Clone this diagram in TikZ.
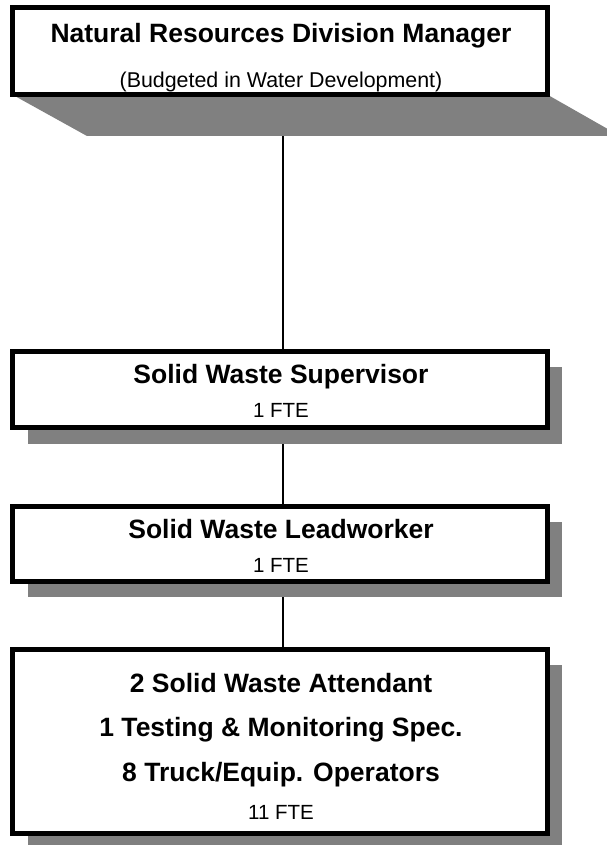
\documentclass[tikz,border=0pt]{standalone}
\usepackage{fontspec}
\setmainfont{Liberation Sans}
\definecolor{shade}{RGB}{128,128,128}
\pgfdeclarelayer{bgA}
\pgfdeclarelayer{bgB}
\pgfsetlayers{bgA,bgB,main}
\tikzset{
  box/.style={draw, line width=5pt, fill=white, inner sep=0pt, minimum width=535pt},
  conn/.style={line width=2.2pt},
  shadowfill/.style={fill=shade, draw=none},
  ttl/.style={font=\bfseries\fontsize{26.5}{30}\selectfont, anchor=base, inner sep=0pt},
  subt/.style={font=\fontsize{21.4}{25}\selectfont, anchor=base, inner sep=0pt},
  fte/.style={font=\fontsize{20.5}{24}\selectfont, anchor=base, inner sep=0pt}
}
\begin{document}
\begin{tikzpicture}[x=1pt,y=-1pt]
\useasboundingbox (0,0) rectangle (607,845);
% boxes
\node[box, minimum height=87pt] (mgr) at (280,51) {};
\node[box, minimum height=76pt] (sup) at (280,389.5) {};
\node[box, minimum height=75pt] (lead) at (280,544) {};
\node[box, minimum height=184pt] (staff) at (280,741.5) {};
% texts
\node[ttl] (mgrT) at (281,42.5) {Natural Resources Division Manager};
\node[subt] (mgrS) at (281,87.5) {(Budgeted in Water Development)};
\node[ttl] (supT) at (281,383) {Solid Waste Supervisor};
\node[fte] (supF) at (281,417) {1 FTE};
\node[ttl] (leadT) at (281,538) {Solid Waste Leadworker};
\node[fte] (leadF) at (281,572) {1 FTE};
\node[ttl] (stA) at (281,692.5) {2 Solid Waste Attendant};
\node[ttl] (stB) at (281,736) {1 Testing \& Monitoring Spec.};
\node[ttl] (stC) at (281,781.5) {8 Truck/Equip. Operators};
\node[fte] (stF) at (281,819.5) {11 FTE};
% shadows
\begin{pgfonlayer}{bgB}
\fill[shadowfill] (13,95) -- (548,95) -- (607,128.6) -- (607,136) -- (87,136) -- cycle;
\fill[shadowfill] (28,367) rectangle (562,444);
\fill[shadowfill] (28,522) rectangle (562,597);
\fill[shadowfill] (28,665) rectangle (562,845);
\end{pgfonlayer}
% background and connectors
\begin{pgfonlayer}{bgA}
\fill[white] (0,0) rectangle (607,845);
\draw[conn] ([xshift=3pt]mgr.south) -- ([xshift=3pt]sup.north);
\draw[conn] ([xshift=3pt]sup.south) -- ([xshift=3pt]lead.north);
\draw[conn] ([xshift=3pt]lead.south) -- ([xshift=3pt]staff.north);
\end{pgfonlayer}
\end{tikzpicture}
\end{document}
